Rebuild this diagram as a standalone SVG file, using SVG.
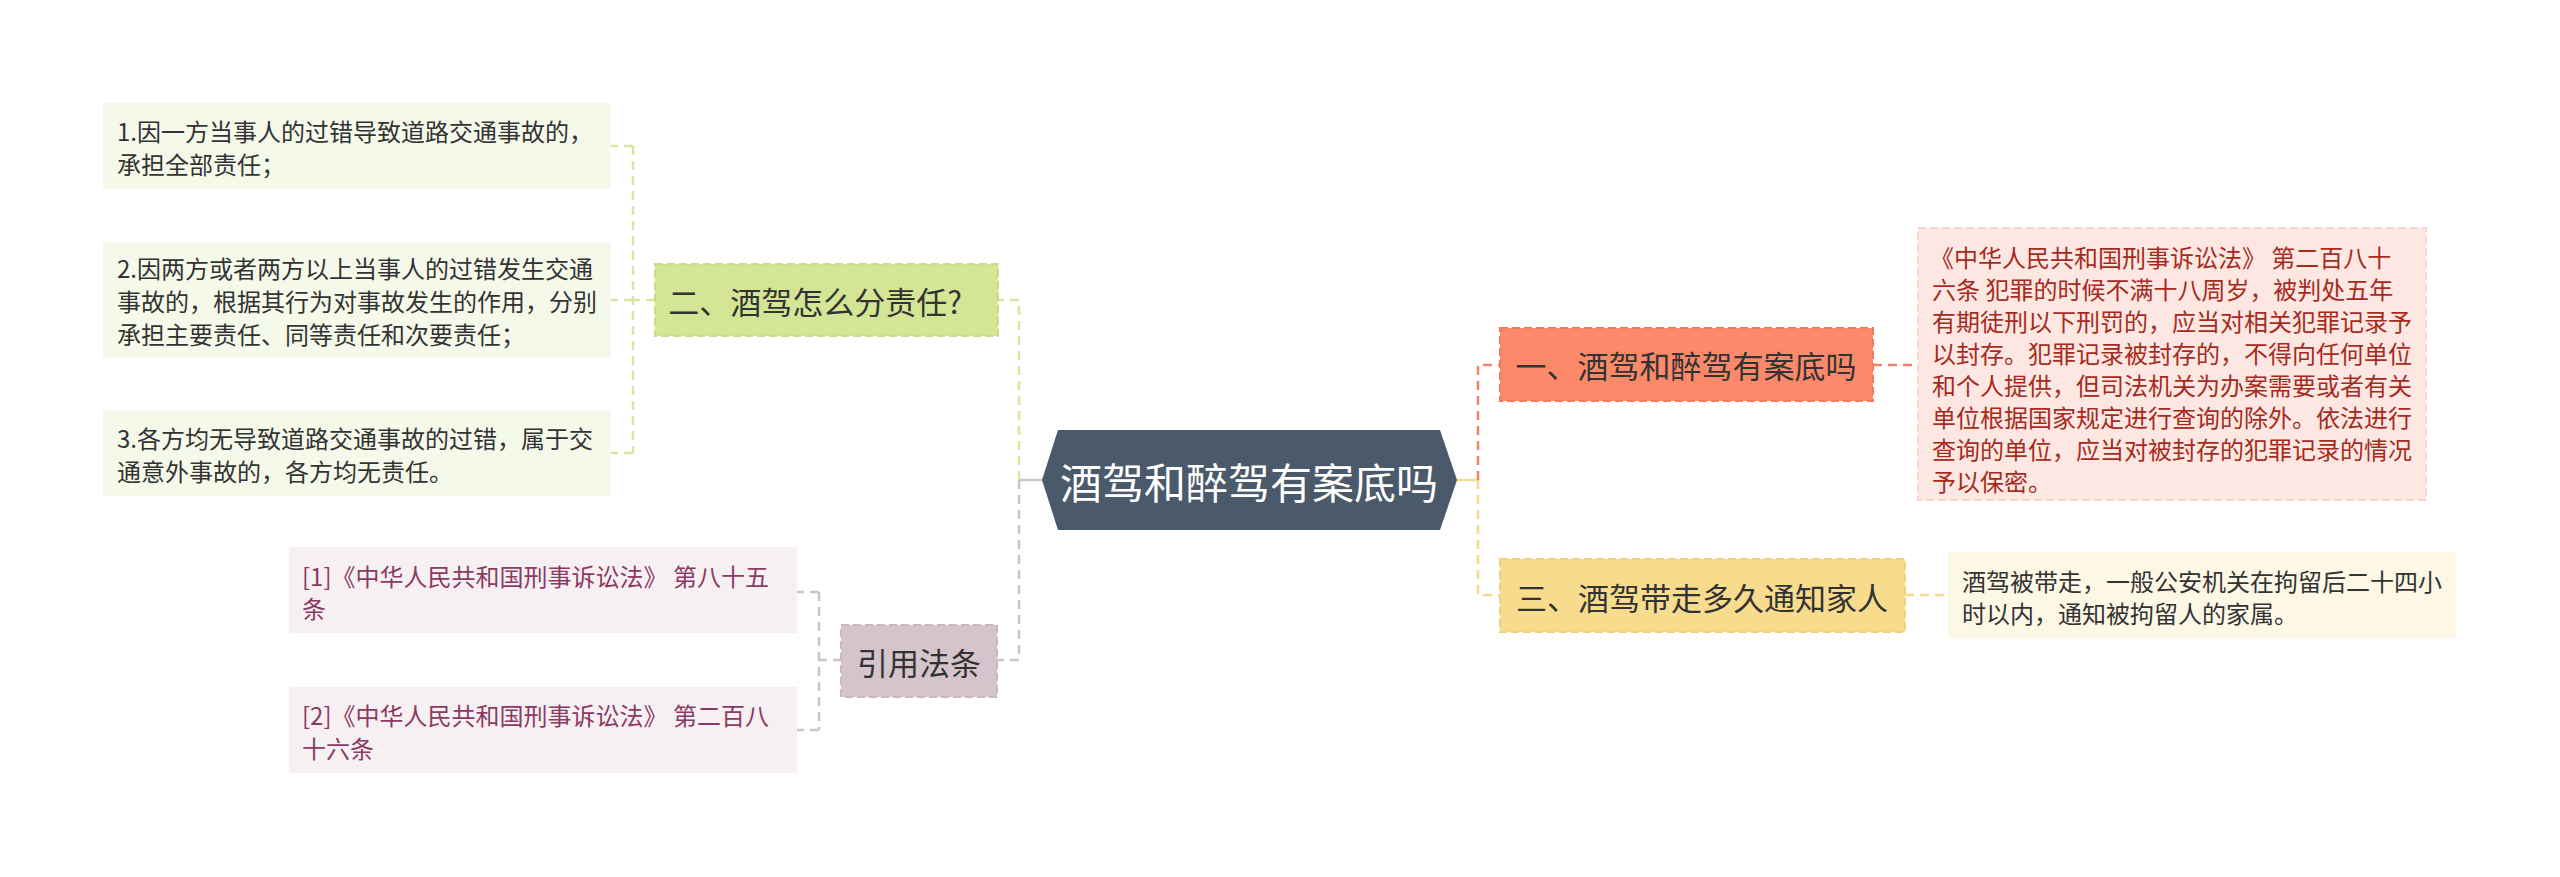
<svg xmlns="http://www.w3.org/2000/svg" width="2560" height="877" viewBox="0 0 2560 877">
<style>
text{font-family:"Noto Sans CJK SC","Noto Sans",sans-serif;}
.t1{font-size:31px;fill:#333;text-anchor:middle;dominant-baseline:central;}
.tc{font-size:42px;fill:#fff;text-anchor:middle;dominant-baseline:central;}
.lf{font-size:24px;dominant-baseline:central;}
.c{fill:none;stroke-width:2.5;stroke-dasharray:9 6;}
.n{stroke-width:2;stroke-dasharray:8 4;}
</style>
<rect width="2560" height="877" fill="#fff"/>
<g id="connectors">
<!-- left main -->
<path d="M1042 480 H1019" fill="none" stroke="#d2c4cb" stroke-width="2.5"/>
<path class="c" stroke="#d8e79f" d="M1019 480 V300 H998"/>
<path class="c" stroke="#cdc3c8" d="M1019 480 V660 H997"/>
<!-- right main -->
<path d="M1456 480 H1478" fill="none" stroke="#f6d98a" stroke-width="2.5"/>
<path class="c" stroke="#f2836a" d="M1478 480 V365 H1500"/>
<path class="c" stroke="#f6d98a" d="M1478 480 V595 H1500"/>
<!-- node 二 bracket -->
<path class="c" stroke="#d8e79f" d="M655 300 H633 M633 146 V453 M633 146 H611 M633 300 H611 M633 453 H611"/>
<!-- 引用法条 bracket -->
<path class="c" stroke="#cdc3c8" d="M842 660 H819 M819 592 V730 M819 592 H797 M819 730 H797"/>
<!-- right leaves -->
<path class="c" stroke="#f2836a" d="M1873 365 H1918"/>
<path class="c" stroke="#f6d98a" d="M1905 595 H1948"/>
</g>
<g id="center">
<polygon points="1042,480 1058,430 1440,430 1457,480 1440,530 1058,530" fill="#4b5a6a"/>
<text class="tc" x="1249" y="480">酒驾和醉驾有案底吗</text>
</g>
<g id="node-er">
<rect class="n" x="655" y="264" width="343" height="72" fill="#d5e596" stroke="#c8dc85"/>
<text class="t1" x="815" y="300">二、酒驾怎么分责任?</text>
</g>
<g id="leaf-er-1">
<rect x="103" y="103" width="508" height="86" fill="#f5f9ea"/>
<text class="lf" fill="#333"><tspan x="117" y="130">1.因一方当事人的过错导致道路交通事故的，</tspan><tspan x="117" y="163">承担全部责任；</tspan></text>
</g>
<g id="leaf-er-2">
<rect x="103" y="242" width="508" height="116" fill="#f5f9ea"/>
<text class="lf" fill="#333"><tspan x="117" y="267">2.因两方或者两方以上当事人的过错发生交通</tspan><tspan x="117" y="300">事故的，根据其行为对事故发生的作用，分别</tspan><tspan x="117" y="333">承担主要责任、同等责任和次要责任；</tspan></text>
</g>
<g id="leaf-er-3">
<rect x="103" y="410" width="508" height="86" fill="#f5f9ea"/>
<text class="lf" fill="#333"><tspan x="117" y="437">3.各方均无导致道路交通事故的过错，属于交</tspan><tspan x="117" y="470">通意外事故的，各方均无责任。</tspan></text>
</g>
<g id="node-ref">
<rect class="n" x="841" y="625" width="156" height="72" fill="#d6c4cd" stroke="#cbb6c1"/>
<text class="t1" x="919" y="661">引用法条</text>
</g>
<g id="leaf-ref-1">
<rect x="289" y="547" width="508" height="86" fill="#f6f0f3"/>
<text class="lf" fill="#8c3a62"><tspan x="302" y="575">[1]《中华人民共和国刑事诉讼法》 第八十五</tspan><tspan x="302" y="607">条</tspan></text>
</g>
<g id="leaf-ref-2">
<rect x="289" y="687" width="508" height="86" fill="#f6f0f3"/>
<text class="lf" fill="#8c3a62"><tspan x="302" y="714">[2]《中华人民共和国刑事诉讼法》 第二百八</tspan><tspan x="302" y="747">十六条</tspan></text>
</g>
<g id="node-yi">
<rect class="n" x="1500" y="328" width="373" height="73" fill="#fc8a6a" stroke="#f37a5c"/>
<text class="t1" x="1686" y="364">一、酒驾和醉驾有案底吗</text>
</g>
<g id="leaf-yi">
<rect class="n" x="1918" y="228" width="508" height="272" fill="#fde7e2" stroke="#f8d6ce"/>
<text class="lf" fill="#a62b1d"><tspan x="1930" y="256">《中华人民共和国刑事诉讼法》 第二百八十</tspan><tspan x="1932" y="288">六条 犯罪的时候不满十八周岁，被判处五年</tspan><tspan x="1932" y="320">有期徒刑以下刑罚的，应当对相关犯罪记录予</tspan><tspan x="1932" y="352">以封存。犯罪记录被封存的，不得向任何单位</tspan><tspan x="1932" y="384">和个人提供，但司法机关为办案需要或者有关</tspan><tspan x="1932" y="416">单位根据国家规定进行查询的除外。依法进行</tspan><tspan x="1932" y="448">查询的单位，应当对被封存的犯罪记录的情况</tspan><tspan x="1932" y="480">予以保密。</tspan></text>
</g>
<g id="node-san">
<rect class="n" x="1500" y="559" width="405" height="73" fill="#f8dc8d" stroke="#f0d07a"/>
<text class="t1" x="1702" y="596">三、酒驾带走多久通知家人</text>
</g>
<g id="leaf-san">
<rect x="1948" y="552" width="508" height="86" fill="#fdf8e6"/>
<text class="lf" fill="#333"><tspan x="1962" y="580">酒驾被带走，一般公安机关在拘留后二十四小</tspan><tspan x="1962" y="612">时以内，通知被拘留人的家属。</tspan></text>
</g>
</svg>
